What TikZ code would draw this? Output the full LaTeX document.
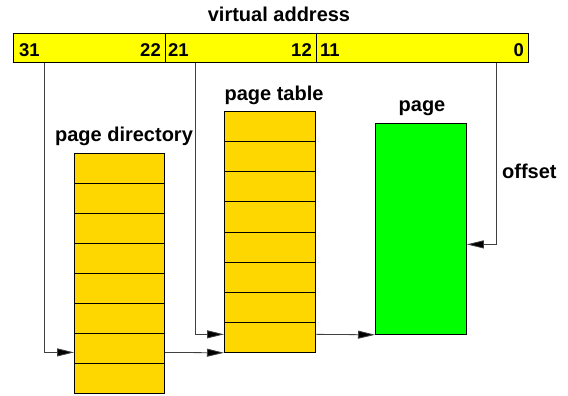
\documentclass[tikz,border=0pt]{standalone}
\usepackage{fontspec}
\setmainfont{Liberation Sans}
\usetikzlibrary{arrows.meta,calc}
\definecolor{baryellow}{RGB}{255,255,0}
\definecolor{cellgold}{RGB}{255,215,0}
\definecolor{pagegreen}{RGB}{0,255,0}
\tikzset{
  field/.style={draw=black,line width=0.8pt,fill=baryellow,minimum height=29.5pt,inner sep=0pt,anchor=north west},
  cell/.style={draw=black,line width=0.8pt,fill=cellgold,minimum width=90pt,minimum height=#1,inner sep=0pt,anchor=north west},
  lbl/.style={font=\bfseries\fontsize{20}{22}\selectfont,inner sep=0pt},
  num/.style={font=\bfseries\fontsize{18.5}{20}\selectfont,inner sep=0pt},
  link/.style={draw=black!75,line width=0.8pt,-{Triangle[length=17pt,width=8pt,fill=black]}},
}
\begin{document}
\begin{tikzpicture}[x=1pt,y=-1pt]
\useasboundingbox (0,0) rectangle (568,396);
% address bar
\node[field,minimum width=152pt] (f1) at (13,33) {};
\node[field,minimum width=151pt] (f2) at (165,33) {};
\node[field,minimum width=212pt] (f3) at (316,33) {};
\node[num,anchor=base west] (n31) at (19,57) {31};
\node[num,anchor=base east] (n22) at (161,57) {22};
\node[num,anchor=base west] (n21) at (168,57) {21};
\node[num,anchor=base east] (n12) at (312,57) {12};
\node[num,anchor=base west] (n11) at (320,57) {11};
\node[num,anchor=base east] (n0) at (524,57) {0};
\node[lbl,anchor=base] (va) at (279,22) {virtual address};
% page directory
\foreach \i in {1,...,8}{
  \node[cell=30pt] (pd\i) at (74,{153+30*(\i-1)}) {};
}
\node[lbl,anchor=base] (pdl) at (124,141.5) {page directory};
% page table
\foreach \i in {1,...,8}{
  \node[cell=30.125pt,minimum width=91pt] (pt\i) at (224,{111+30.125*(\i-1)}) {};
}
\node[lbl,anchor=base] (ptl) at (274,100.5) {page table};
% page
\node[draw=black,line width=0.8pt,fill=pagegreen,minimum width=91pt,minimum height=211pt,inner sep=0pt,anchor=north west] (pg) at (375,123) {};
\node[lbl,anchor=base] (pgl) at (422,111) {page};
\node[lbl,anchor=base west] (off) at (502,178) {offset};
% connectors
\coordinate (s1) at ($(f1.south west)+(31,0)$);
\coordinate (s2) at ($(f2.south west)+(30,0)$);
\coordinate (s3) at ($(f3.south east)+(-32,0)$);
\coordinate (d1) at ($(pd7.west)+(0,4)$);
\coordinate (d2) at ($(pd7.east)+(0,4)$);
\coordinate (t1) at ($(pt8.west)+(0,-3)$);
\coordinate (t2) at ($(pt8.east)+(0,-3)$);
\coordinate (g1) at ($(pg.east)+(0,15.5)$);
\draw[link] (s1) |- (d1);
\draw[link] (s2) |- (t1);
\draw[link] (s3) |- (g1);
\draw[link] (d2) -- (pt8.south west);
\draw[link] (t2) -- (pg.south west);
\end{tikzpicture}
\end{document}
